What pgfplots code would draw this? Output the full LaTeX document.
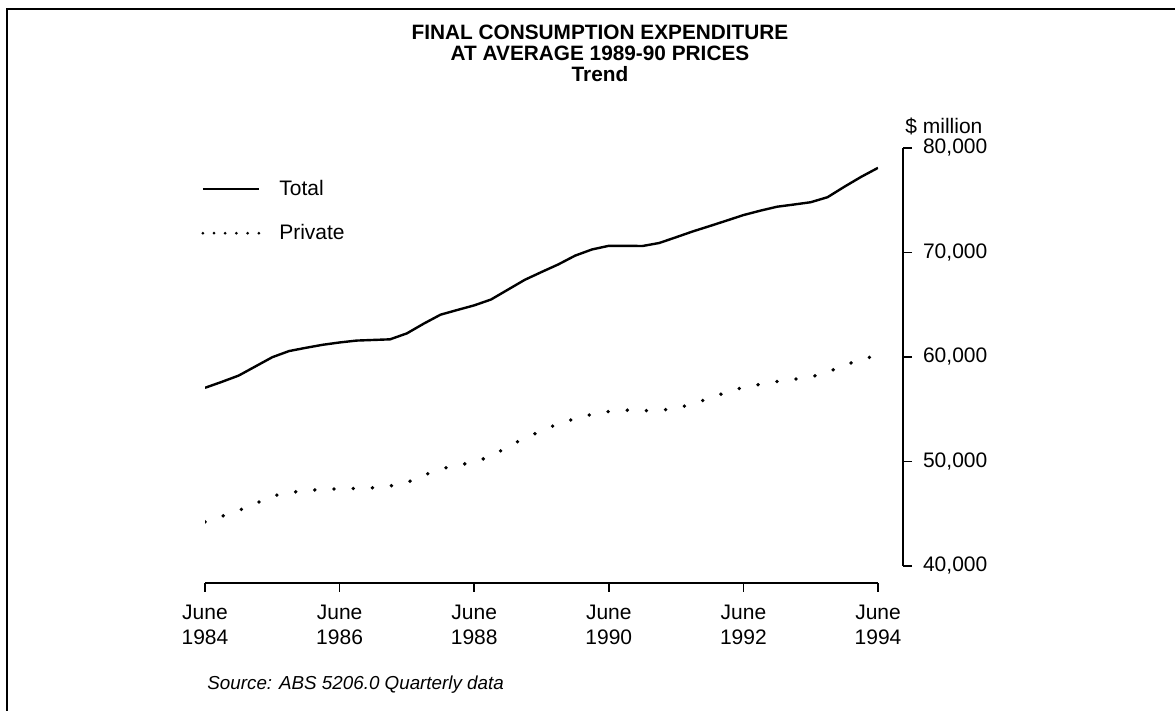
\documentclass[border=0pt]{standalone}
\usepackage{fontspec}
\setmainfont{Liberation Sans}
\usepackage{pgfplots}
\pgfplotsset{compat=1.18}
\usepackage{pgfplotstable}

% quarterly trend, $ million at average 1989-90 prices
\pgfplotstableread{
date    total private
1984.00 57050 44220
1984.25 57620 44750
1984.50 58220 45310
1984.75 59100 45980
1985.00 59980 46700
1985.25 60570 47020
1985.50 60880 47210
1985.75 61170 47330
1986.00 61390 47380
1986.25 61570 47430
1986.50 61630 47490
1986.75 61690 47660
1987.00 62260 47980
1987.25 63190 48680
1987.50 64050 49300
1987.75 64500 49620
1988.00 64940 49970
1988.25 65500 50490
1988.50 66440 51420
1988.75 67380 52240
1989.00 68130 52930
1989.25 68860 53620
1989.50 69700 54100
1989.75 70290 54520
1990.00 70640 54790
1990.25 70640 54920
1990.50 70620 54860
1990.75 70910 54890
1991.00 71460 55080
1991.25 72020 55520
1991.50 72530 56060
1991.75 73050 56630
1992.00 73580 57090
1992.25 74000 57390
1992.50 74380 57650
1992.75 74590 57860
1993.00 74810 58080
1993.25 75290 58570
1993.50 76290 59190
1993.75 77240 59790
1994.00 78100 60140
}\fce

\begin{document}
\begin{tikzpicture}
\useasboundingbox (0,0) rectangle (587.5pt,355.5pt);
\draw[line width=1pt] (3.5pt,0pt) -- (3.5pt,351pt) -- (587.5pt,351pt);

\node[font=\fontsize{10.4}{10.5}\selectfont\bfseries, align=center] at (300pt,328.9pt)
  {FINAL CONSUMPTION EXPENDITURE\\AT AVERAGE 1989-90 PRICES\\Trend};

% data and time axis
\begin{axis}[
  at={(102.5pt,64pt)}, anchor=south west,
  scale only axis, width=336.5pt, height=217.5pt,
  xmin=1984, xmax=1994, ymin=38373, ymax=80000,
  axis x line*=bottom, axis y line=none,
  axis line style={-, line width=0.9pt},
  tick style={line width=0.9pt, black},
  tick align=outside, major tick length=4.5pt,
  xtick={1984,1986,...,1994},
  xticklabels={June\\1984,June\\1986,June\\1988,June\\1990,June\\1992,June\\1994},
  xticklabel style={align=center, yshift=-3pt, font=\fontsize{10.5}{12.5}\selectfont},
  legend style={draw=none, fill=none, at={(-0.015,0.946)}, anchor=north west,
    row sep=9pt, column sep=7.5pt, font=\fontsize{10.5}{12}\selectfont},
  legend cell align=left,
]
\addplot[black, line width=1.2pt,
  legend image code/.code={\draw[line width=1.2pt] (0pt,0pt) -- (28pt,0pt);}]
  table[x=date, y=total] {\fce};
\addlegendentry{Total}
\addplot[black, line width=1.9pt, line cap=round, dash pattern=on 0pt off 9.6pt,
  legend image code/.code={\draw[line width=1.5pt, line cap=round, dash pattern=on 0pt off 5.6pt] (0pt,0pt) -- (28pt,0pt);}]
  table[x=date, y=private] {\fce};
\addlegendentry{Private}
\end{axis}

% value axis
\begin{axis}[
  at={(451.5pt,72.5pt)}, anchor=south east,
  scale only axis, width=5pt, height=209pt,
  xmin=0, xmax=1, ymin=40000, ymax=80000,
  axis y line*=right, axis x line=none,
  axis line style={-, line width=0.9pt},
  tick style={line width=0.9pt, black},
  tick align=outside, major tick length=4.5pt,
  scaled y ticks=false,
  ytick={40000,50000,...,80000},
  yticklabels={{40,000},{50,000},{60,000},{70,000},{80,000}},
  yticklabel style={xshift=2pt, font=\fontsize{10.5}{12}\selectfont},
  ylabel={\$ million},
  ylabel style={rotate=-90, at={(rel axis cs:1,1)}, anchor=base west,
    yshift=7pt, xshift=1pt, inner sep=0pt, font=\fontsize{10.5}{12}\selectfont},
]
\end{axis}

\node[anchor=west, inner sep=0pt, font=\fontsize{9.4}{11}\selectfont\itshape]
  at (103.5pt,13pt) {Source: ABS 5206.0 Quarterly data};
\end{tikzpicture}
\end{document}
